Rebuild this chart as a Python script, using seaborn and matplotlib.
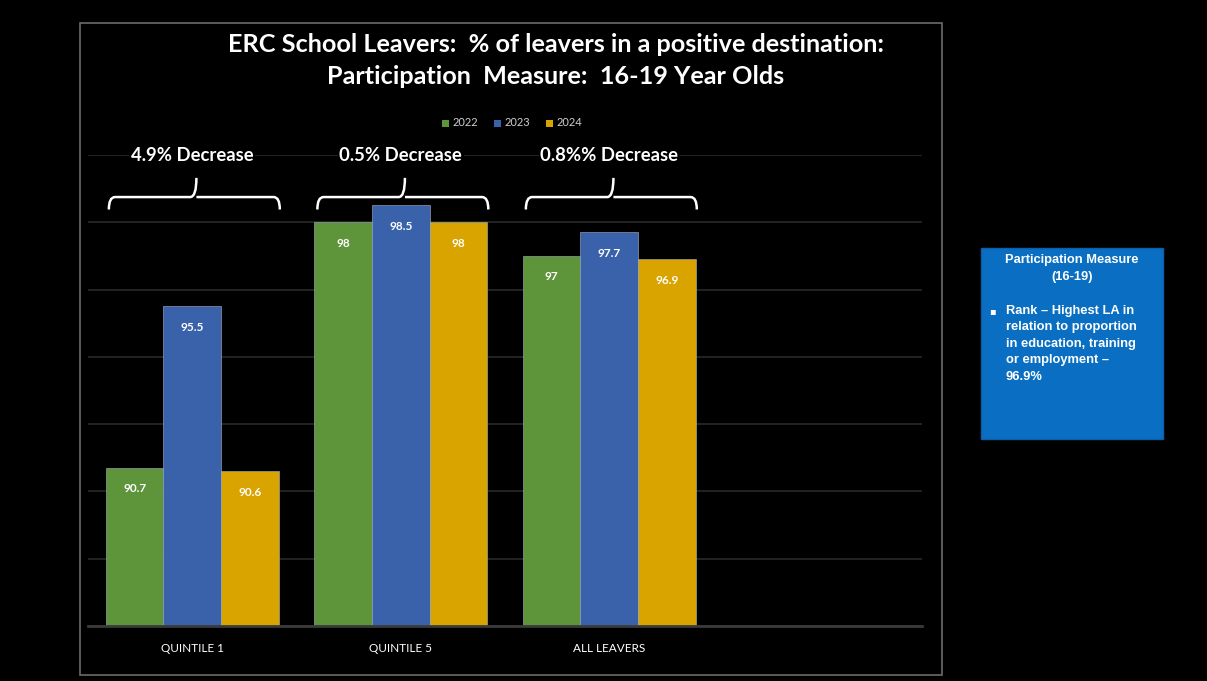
import matplotlib
matplotlib.use("Agg")
import matplotlib.pyplot as plt
from matplotlib.path import Path
from matplotlib.patches import PathPatch, Rectangle
import seaborn as sns
import pandas as pd

categories = ["QUINTILE 1", "QUINTILE 5", "ALL LEAVERS"]
years = ["2022", "2023", "2024"]
values_2022 = [90.7, 98.0, 97.0]
values_2023 = [95.5, 98.5, 97.7]
values_2024 = [90.6, 98.0, 96.9]
value_labels = {"2022": ["90.7", "98", "97"], "2023": ["95.5", "98.5", "97.7"], "2024": ["90.6", "98", "96.9"]}
change_labels = ["4.9% Decrease", "0.5% Decrease", "0.8%% Decrease"]
colors = ["#5E953A", "#3A62AA", "#D9A300"]

rows = []
for y, vals in zip(years, [values_2022, values_2023, values_2024]):
    for c, v in zip(categories, vals):
        rows.append({"Category": c, "Year": y, "Value": v})
df = pd.DataFrame(rows)

sns.set_theme(style="dark")
plt.rcParams["font.family"] = ["Lato", "DejaVu Sans"]

W, H = 1207, 681
fig = plt.figure(figsize=(W / 100, H / 100), dpi=100, facecolor="black")

# outer chart panel border
fig.patches.append(Rectangle((80 / W, 1 - 675 / H), (942 - 80) / W, (675 - 23) / H,
                             transform=fig.transFigure, fill=False, edgecolor="#6b6b6b", linewidth=1.2))

ax = fig.add_axes([88 / W, 1 - 626 / H, (922 - 88) / W, (626 - 155) / H])
ax.set_facecolor("black")

sns.barplot(data=df, x="Category", y="Value", hue="Year", order=categories, hue_order=years,
            palette=colors, saturation=1, width=0.83, ax=ax, edgecolor="#a8b4c4", linewidth=0.4,
            legend=False)

ax.set_ylim(86, 100)
ax.set_xlim(-0.5, 3.5)
ax.set_yticks([86, 88, 90, 92, 94, 96, 98, 100])
ax.grid(axis="y", color="#2a2a2a", linewidth=1.2)
ax.grid(axis="x", visible=False)
ax.set_axisbelow(True)
ax.tick_params(axis="y", left=False, labelleft=False)
ax.tick_params(axis="x", bottom=False, colors="white", pad=6)
ax.set_xlabel("")
ax.set_ylabel("")
for s in ["top", "right", "left"]:
    ax.spines[s].set_visible(False)
ax.spines["bottom"].set_color("#3a3a3a")
ax.spines["bottom"].set_linewidth(2)
for t in ax.get_xticklabels():
    t.set_color("white")
    t.set_fontsize(8.5)

# value labels
for cont, y in zip(ax.containers, years):
    ax.bar_label(cont, labels=value_labels[y], label_type="edge", padding=-19,
                 color="white", fontsize=8.5, fontweight="bold")

# braces + change labels
for i, lab in enumerate(change_labels):
    x0, x1 = i - 0.4, i + 0.42
    xm = i + 0.02
    yb, yh, yt = 98.38, 98.75, 99.32
    r = 0.03
    verts = [(x0, yb), (x0, yh), (x0 + r, yh), (xm - r, yh), (xm, yh), (xm, yt),
             (xm, yh), (xm + r, yh), (x1 - r, yh), (x1, yh), (x1, yb)]
    codes = [Path.MOVETO, Path.CURVE3, Path.CURVE3, Path.LINETO, Path.CURVE3, Path.LINETO,
             Path.MOVETO, Path.CURVE3, Path.LINETO, Path.CURVE3, Path.CURVE3]
    ax.add_patch(PathPatch(Path(verts, codes), fill=False, edgecolor="white", linewidth=1.8,
                           clip_on=False))
    ax.text(i, 100.0, lab, ha="center", va="center", color="white", fontsize=13.3,
            fontweight="bold", bbox=dict(facecolor="black", edgecolor="none", pad=1))

# title
fig.text(556 / W, 1 - 45 / H, "ERC School Leavers:  % of leavers in a positive destination:",
         ha="center", va="center", color="white", fontsize=18.2, fontweight="bold")
fig.text(556 / W, 1 - 77 / H, "Participation  Measure:  16-19 Year Olds",
         ha="center", va="center", color="white", fontsize=18.2, fontweight="bold")

# legend
lx = 442
for y, c in zip(years, colors):
    fig.patches.append(Rectangle((lx / W, 1 - 127 / H), 7 / W, 7 / H, transform=fig.transFigure,
                                 facecolor=c, edgecolor="none"))
    fig.text((lx + 11) / W, 1 - 123 / H, y, ha="left", va="center", color="#d0d0d0", fontsize=8)
    lx += 52

# side info box
box_font = ["Liberation Sans", "DejaVu Sans"]
fig.patches.append(Rectangle((981 / W, 1 - 439 / H), (1163 - 981) / W, (439 - 248) / H,
                             transform=fig.transFigure, facecolor="#0A6FC2", edgecolor="#0A5FA8"))
fig.text(1072 / W, 1 - 260 / H, "Participation Measure", ha="center", va="center",
         color="white", fontsize=9.3, fontweight="bold", family=box_font)
fig.text(1072 / W, 1 - 277 / H, "(16-19)", ha="center", va="center",
         color="white", fontsize=9.3, fontweight="bold", family=box_font)
fig.text(992 / W, 1 - 311 / H, "\u25aa", ha="center", va="center", color="white", fontsize=7,
         family=["DejaVu Sans"])
fig.text(1006 / W, 1 - 305 / H,
         "Rank \u2013 Highest LA in\nrelation to proportion\nin education, training\nor employment \u2013\n96.9%",
         ha="left", va="top", color="white", fontsize=9.3, fontweight="bold", linespacing=1.5,
         family=box_font)

fig.savefig("out.png", dpi=100, facecolor="black")
